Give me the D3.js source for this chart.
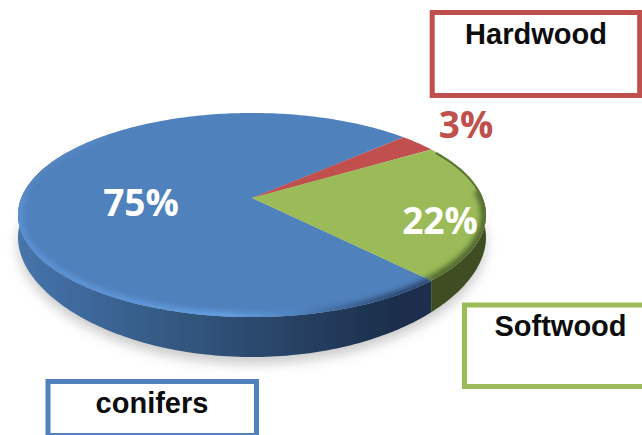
<!DOCTYPE html>
<html>
<head>
<meta charset="utf-8">
<script src="https://cdn.jsdelivr.net/npm/d3@7"></script>
<style>
html, body { margin: 0; padding: 0; background: #fff; overflow: hidden; }
svg { display: block; }
</style>
</head>
<body>
<script>
// data
var categories = ["conifers", "Hardwood", "Softwood"];
var values = [75, 3, 22];
var colors = ["#4f81bd", "#c0504d", "#9bbb59"];

var width = 642, height = 435;
var deg = Math.PI / 180;

var svg = d3.select("body").append("svg")
    .attr("width", width)
    .attr("height", height);
var defs = svg.append("defs");

// tilted disc: unit circle angle -> screen, centre of the pie lands off the ellipse centre like in the picture
function project(a, r) {
    var u = r * Math.sin(a), v = -r * Math.cos(a);
    var w = 1 - 0.1667 * v;
    return [252 + 230.7 * u / w, (66.2 * v + 198) / w];
}

function arcPoints(a0, a1, r) {
    var n = Math.max(2, Math.ceil(Math.abs(a1 - a0) / (1 * deg)));
    return d3.range(n + 1).map(function(i) {
        return project(a0 + (a1 - a0) * i / n, r);
    });
}

// lower edge of the wall: the wall looks thinner towards the sides
function lowerEdge(a0, a1, extra) {
    var n = Math.max(2, Math.ceil(Math.abs(a1 - a0) / (1 * deg)));
    return d3.range(n + 1).map(function(i) {
        var a = a0 + (a1 - a0) * i / n;
        var p = project(a, 1);
        var v = Math.max(0, -Math.cos(a));
        return [p[0], p[1] + 22 + 18 * v * v + extra];
    });
}

var line = d3.line();
var pie = d3.pie().sort(null).startAngle(137 * deg).endAngle(497 * deg);
var slices = pie(values);

// filters
defs.append("filter").attr("id", "blurShadow").attr("x", "-20%").attr("y", "-20%").attr("width", "140%").attr("height", "140%")
    .append("feGaussianBlur").attr("stdDeviation", 6);
defs.append("filter").attr("id", "blurRim").attr("filterUnits", "userSpaceOnUse")
    .attr("x", 0).attr("y", 90).attr("width", width).attr("height", 300)
    .append("feGaussianBlur").attr("stdDeviation", 2.6);
defs.append("filter").attr("id", "blurEdge").attr("filterUnits", "userSpaceOnUse")
    .attr("x", 0).attr("y", 90).attr("width", width).attr("height", 300)
    .append("feGaussianBlur").attr("stdDeviation", 0.7);

function gradient(id, stops) {
    var g = defs.append("linearGradient").attr("id", id)
        .attr("gradientUnits", "userSpaceOnUse")
        .attr("x1", 18).attr("x2", 485).attr("y1", 0).attr("y2", 0);
    stops.forEach(function(s) {
        g.append("stop").attr("offset", s[0]).attr("stop-color", s[1]);
    });
}
gradient("wall0", [[0, "#4674ab"], [0.12, "#3f6a9e"], [0.35, "#33577f"], [0.62, "#263f61"], [0.8, "#1b2f4b"], [1, "#1b2f4b"]]);
gradient("wall2", [[0, "#3f4d22"], [1, "#3f4d22"]]);
gradient("wall1", [[0, "#7a302e"], [1, "#7a302e"]]);
gradient("rim0", [[0, "#5a90d2"], [0.3, "#5f97da"], [0.45, "#64a0e2"], [0.6, "#4f81bd"], [0.8, "#2d4a73"], [1, "#2d4a73"]]);

// soft shadow under the disc
var outline = arcPoints(0, 2 * Math.PI, 1);
svg.append("path")
    .attr("d", line(lowerEdge(0, 2 * Math.PI, 7)) + "Z")
    .attr("fill", "#9a9a9a")
    .attr("opacity", 0.5)
    .attr("filter", "url(#blurShadow)");

// side wall, a bit past the sides since the top face covers the overlap
var leftEdge = 300 * deg, rightEdge = 60 * deg;
var wallGroup = svg.append("g").attr("filter", "url(#blurEdge)");
slices.forEach(function(d, i) {
    var a0 = d.startAngle, a1 = d.endAngle;
    // walk the slice in steps of one full turn so the front part can be intersected
    [0, 2 * Math.PI].forEach(function(shift) {
        var lo = Math.max(a0, rightEdge + shift), hi = Math.min(a1, leftEdge + shift);
        if (hi <= lo) return;
        var top = arcPoints(lo, hi, 1);
        var bottom = lowerEdge(hi, lo, 0);
        wallGroup.append("path")
            .attr("d", line(top.concat(bottom)) + "Z")
            .attr("fill", "url(#wall" + i + ")");
    });
});

// top faces
var centre = project(0, 0);
var faceGroup = svg.append("g").attr("filter", "url(#blurEdge)");
slices.forEach(function(d, i) {
    var pts = [centre].concat(arcPoints(d.startAngle, d.endAngle, 1));
    faceGroup.append("path")
        .attr("d", line(pts) + "Z")
        .attr("fill", colors[i]);
});

// bevel along the rim
defs.append("clipPath").attr("id", "discClip")
    .append("path").attr("d", line(outline) + "Z");
var rimLayer = svg.append("g").attr("clip-path", "url(#discClip)");
rimLayer.append("path")
    .attr("d", line(arcPoints(137 * deg, 272 * deg, 1.0)))
    .attr("fill", "none").attr("stroke", "url(#rim0)").attr("stroke-width", 9)
    .attr("filter", "url(#blurRim)");
rimLayer.append("path")
    .attr("d", line(arcPoints(85 * deg, 137 * deg, 1.0)))
    .attr("fill", "none").attr("stroke", "#566c31").attr("stroke-width", 11)
    .attr("filter", "url(#blurRim)");
rimLayer.append("path")
    .attr("d", line(arcPoints(60 * deg, 90 * deg, 1.0)))
    .attr("fill", "none").attr("stroke", "#5d7535").attr("stroke-width", 4)
    .attr("filter", "url(#blurEdge)");
rimLayer.append("path")
    .attr("d", line(arcPoints(268 * deg, 315 * deg, 1.0)))
    .attr("fill", "none").attr("stroke", "#5a8ac6").attr("stroke-width", 5)
    .attr("filter", "url(#blurRim)");

// percentage labels
var labelSpots = [[141, 203, "#fff"], [466, 125, "#c0504d"], [440, 221, "#fff"]];
svg.selectAll("text.pct").data(values).enter().append("text")
    .attr("class", "pct")
    .attr("x", function(d, i) { return labelSpots[i][0]; })
    .attr("y", function(d, i) { return labelSpots[i][1]; })
    .attr("dy", "0.36em")
    .attr("text-anchor", "middle")
    .attr("font-family", "'Open Sans'")
    .attr("font-weight", 700)
    .attr("font-size", 37)
    .attr("fill", function(d, i) { return labelSpots[i][2]; })
    .text(function(d) { return d + "%"; });

// name boxes
var boxes = [
    { x: 48, y: 381.5, w: 208.5, h: 54, tx: 152, ty: 413 },
    { x: 432.2, y: 12.5, w: 207.5, h: 83, tx: 536, ty: 44 },
    { x: 464.5, y: 305, w: 200, h: 81.5, tx: 560.5, ty: 336 }
];
boxes.forEach(function(b, i) {
    svg.append("rect")
        .attr("x", b.x).attr("y", b.y).attr("width", b.w).attr("height", b.h)
        .attr("fill", "#fff")
        .attr("stroke", colors[i])
        .attr("stroke-width", 5);
    svg.append("text")
        .attr("x", b.tx).attr("y", b.ty)
        .attr("text-anchor", "middle")
        .attr("font-family", "'Liberation Sans'")
        .attr("font-weight", 700)
        .attr("font-size", 29)
        .attr("fill", "#0d0d0d")
        .text(categories[i]);
});
</script>
</body>
</html>
